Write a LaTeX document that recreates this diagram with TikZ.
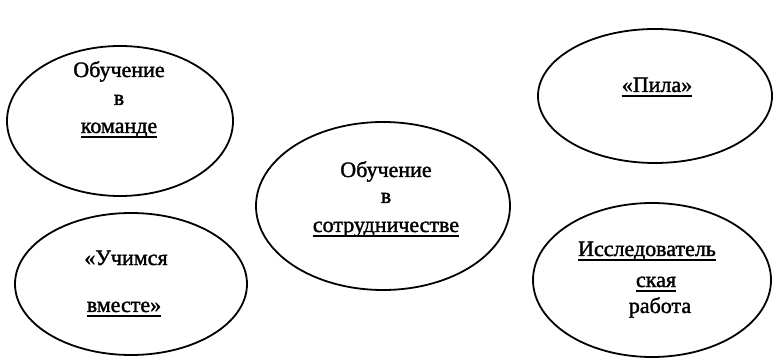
\documentclass[tikz,border=0pt]{standalone}
\usepackage{fontspec}
\setmainfont[FakeBold=1.5]{Liberation Serif}
% жирное подчёркивание
\newcommand{\ulthick}[1]{\setbox0\hbox{#1}\rlap{\raisebox{-2.6pt}{\rule{\wd0}{1.3pt}}}\box0}

\begin{document}
\begin{tikzpicture}[x=0.5pt, y=-0.5pt, line width=0.9pt, every node/.style={font=\fontsize{11}{13}\selectfont, anchor=base, inner sep=0pt}]
	\useasboundingbox (0,0) rectangle (776,363);
	% левый верхний овал
	\draw (120,121) ellipse [x radius=113, y radius=75];
	\node (obuch1) at (119,77) {Обучение};
	\node (v1) at (119,105) {в};
	\node (komanda) at (119,133) {\ulthick{команде}};
	
	% правый верхний овал
	\draw (655,96) ellipse [x radius=117, y radius=67];
	\node (pila) at (657,92) {\ulthick{«Пила»}};
	
	% центральный овал
	\draw (383,206) ellipse [x radius=127, y radius=84];
	\node (obuch2) at (386,177) {Обучение};
	\node (v2) at (386,203) {в};
	\node (sotr) at (386,232) {\ulthick{сотрудничестве}};
	
	% левый нижний овал
	\draw (131,284) ellipse [x radius=116, y radius=71];
	\node (uchim) at (126,265) {«Учимся};
	\node (vmeste) at (124,312) {\ulthick{вместе»}};
	
	% правый нижний овал
	\draw (652,280) ellipse [x radius=119, y radius=77];
	\node (issl) at (647,256) {\ulthick{Исследователь}};
	\node (skaya) at (656,287) {\ulthick{ская}};
	\node (rabota) at (660,313) {работа};
\end{tikzpicture}
\end{document}
